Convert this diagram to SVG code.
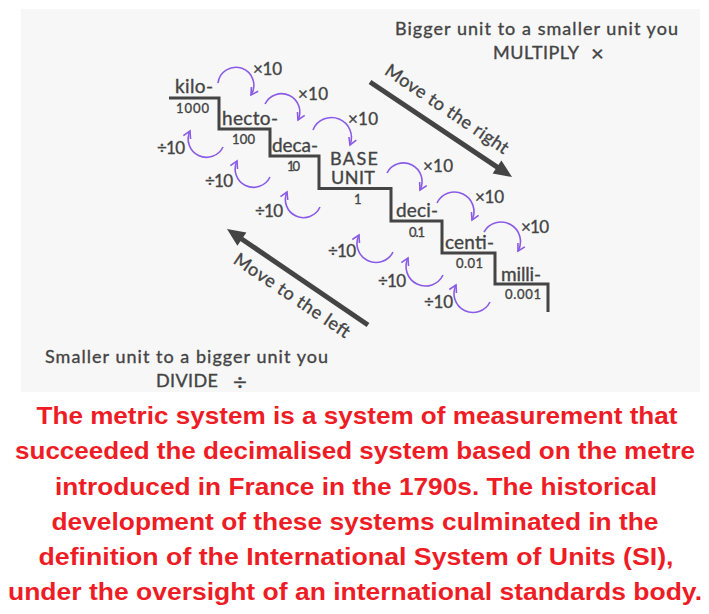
<svg xmlns="http://www.w3.org/2000/svg" width="709" height="614" viewBox="0 0 709 614">
<style>
.t{font-family:Lato,"Open Sans","DejaVu Sans",sans-serif;fill:#444;stroke:#444;stroke-width:0.35;}
.u{font-size:19px;}
.b{font-size:18px;}
.n{font-size:13px;}
.m{font-size:17px;}
.h{font-size:18px;}
.arc{fill:none;stroke:#8a5ce6;stroke-width:1.6;}
.red{font-family:"Liberation Sans",Arial,sans-serif;font-weight:bold;font-size:24px;fill:#ee1c25;}
</style>
<defs>
<marker id="ch" markerUnits="userSpaceOnUse" markerWidth="10" markerHeight="10" viewBox="0 0 10 10" refX="8" refY="5" orient="auto">
<path d="M1,1 L8,5 L1,9" fill="none" stroke="#8a5ce6" stroke-width="1.6"/>
</marker>
</defs>
<rect x="21" y="9" width="679" height="383" fill="#f7f7f7"/>

<g id="stairs">
<polyline points="169,98 219,98 219,129 270,129 270,156 319,156 319,188.5 391,188.5 391,221 442,221 442,253 495,253 495,284 548,284 548,312" fill="none" stroke="#444" stroke-width="3"/>
</g>

<g id="kilo"><text class="t u" x="175" y="93" textLength="38">kilo-</text><text class="t n" x="176" y="113" textLength="33">1000</text></g>
<g id="hecto"><text class="t u" x="222" y="125" textLength="56">hecto-</text><text class="t n" x="232" y="144" textLength="23">100</text></g>
<g id="deca"><text class="t u" x="272" y="152" textLength="46">deca-</text><text class="t n" x="287" y="171" textLength="13">10</text></g>
<g id="base"><text class="t b" x="330" y="165" textLength="48">BASE</text><text class="t b" x="331" y="184" textLength="44">UNIT</text><text class="t n" x="354" y="204">1</text></g>
<g id="deci"><text class="t u" x="396" y="217" textLength="42">deci-</text><text class="t n" x="409" y="237" textLength="16">0.1</text></g>
<g id="centi"><text class="t u" x="445" y="249" textLength="49">centi-</text><text class="t n" x="456" y="268" textLength="27">0.01</text></g>
<g id="milli"><text class="t u" x="501" y="281" textLength="40">milli-</text><text class="t n" x="505" y="299" textLength="36">0.001</text></g>

<g id="multiply-labels">
<text class="t m" x="253" y="75" textLength="29">×10</text>
<text class="t m" x="298" y="100" textLength="30">×10</text>
<text class="t m" x="348" y="125" textLength="30">×10</text>
<text class="t m" x="423" y="172" textLength="30">×10</text>
<text class="t m" x="475" y="203" textLength="29">×10</text>
<text class="t m" x="521" y="233" textLength="28">×10</text>
</g>
<g id="divide-labels">
<text class="t m" x="157" y="154" textLength="28">÷10</text>
<text class="t m" x="205" y="187" textLength="28">÷10</text>
<text class="t m" x="255" y="217" textLength="28">÷10</text>
<text class="t m" x="328" y="257" textLength="28">÷10</text>
<text class="t m" x="378" y="287" textLength="28">÷10</text>
<text class="t m" x="424" y="308" textLength="29">÷10</text>
</g>

<g id="connectors">
<path class="arc" marker-end="url(#ch)" d="M218,83 A18,18 0 1 1 251,95"/>
<path class="arc" marker-end="url(#ch)" d="M265,104 A18,18 0 1 1 298,120"/>
<path class="arc" marker-end="url(#ch)" d="M313,130 A18,18 0 1 1 350,145"/>
<path class="arc" marker-end="url(#ch)" d="M387,173 A18,18 0 1 1 420,190"/>
<path class="arc" marker-end="url(#ch)" d="M437,203 A18,18 0 1 1 472,220"/>
<path class="arc" marker-end="url(#ch)" d="M484,232 A18,18 0 1 1 518,251"/>

<path class="arc" marker-end="url(#ch)" d="M223,147 A18,18 0 1 1 190,131"/>
<path class="arc" marker-end="url(#ch)" d="M270,177 A18,18 0 1 1 237,161"/>
<path class="arc" marker-end="url(#ch)" d="M320,207 A18,18 0 1 1 287,192"/>
<path class="arc" marker-end="url(#ch)" d="M393,252 A18,18 0 1 1 359,235"/>
<path class="arc" marker-end="url(#ch)" d="M443,275 A18,18 0 1 1 408,258"/>
<path class="arc" marker-end="url(#ch)" d="M490,302 A18,18 0 1 1 456,285"/>

<line x1="370" y1="82" x2="498.7" y2="168.1" stroke="#444" stroke-width="5"/>
<polygon points="512,177 492.6,173.6 501.4,160.4" fill="#444"/>
<line x1="368" y1="325" x2="240.2" y2="238" stroke="#444" stroke-width="5"/>
<polygon points="227,229 246.4,232.5 237.4,245.7" fill="#444"/>
</g>

<g id="move-right"><text class="t h" text-anchor="middle" transform="translate(443.6,114) rotate(34)" textLength="145">Move to the right</text></g>
<g id="move-left"><text class="t h" text-anchor="middle" transform="translate(288.6,300.5) rotate(34)" textLength="136">Move to the left</text></g>

<g id="multiply-note">
<text class="t" font-size="18" x="395" y="35" textLength="283">Bigger unit to a smaller unit you</text>
<text class="t" font-size="18" x="493" y="59" textLength="86">MULTIPLY</text>
<text class="t" font-size="22" x="591" y="61">×</text>
</g>
<g id="divide-note">
<text class="t" font-size="18" x="45" y="363" textLength="283">Smaller unit to a bigger unit you</text>
<text class="t" font-size="18" x="156" y="387" textLength="62">DIVIDE</text>
<text class="t" font-size="24" x="233" y="390">÷</text>
</g>

<g id="caption">
<text class="red" x="357" y="424" text-anchor="middle" textLength="641" lengthAdjust="spacingAndGlyphs">The metric system is a system of measurement that</text>
<text class="red" x="355" y="459" text-anchor="middle" textLength="680" lengthAdjust="spacingAndGlyphs">succeeded the decimalised system based on the metre</text>
<text class="red" x="356" y="495" text-anchor="middle" textLength="602" lengthAdjust="spacingAndGlyphs">introduced in France in the 1790s. The historical</text>
<text class="red" x="355" y="530" text-anchor="middle" textLength="607" lengthAdjust="spacingAndGlyphs">development of these systems culminated in the</text>
<text class="red" x="356" y="565" text-anchor="middle" textLength="635" lengthAdjust="spacingAndGlyphs">definition of the International System of Units (SI),</text>
<text class="red" x="355" y="600" text-anchor="middle" textLength="694" lengthAdjust="spacingAndGlyphs">under the oversight of an international standards body.</text>
</g>
</svg>
